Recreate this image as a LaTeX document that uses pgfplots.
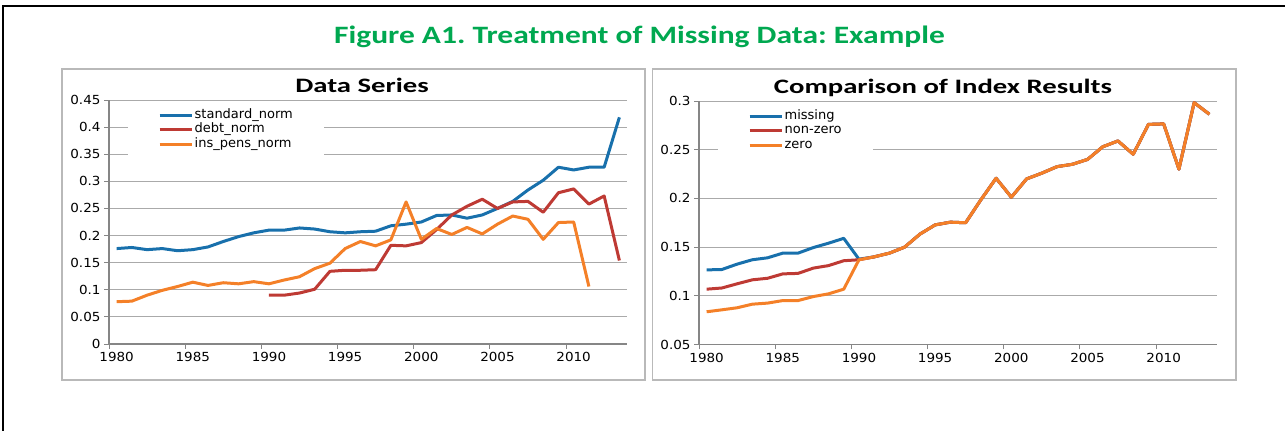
\documentclass[border=0pt]{standalone}
\usepackage{pgfplots}
\pgfplotsset{compat=1.18}
\usepackage{fontspec}
\setmainfont{DejaVu Sans}
\newfontfamily\tickfont[FakeStretch=1.08]{DejaVu Sans}
\newfontfamily\figtitlefont[FakeStretch=1.26]{Carlito}
\newfontfamily\charttitlefont[FakeStretch=1.4]{Carlito}
\definecolor{sblue}{RGB}{24,112,172}
\definecolor{sred}{RGB}{190,58,52}
\definecolor{sorange}{RGB}{244,128,40}
\definecolor{tgreen}{RGB}{0,168,80}
\definecolor{axgray}{RGB}{134,134,134}
\definecolor{gridgray}{RGB}{170,170,170}
\definecolor{boxgray}{RGB}{185,185,185}
\pgfplotsset{exstyle/.style={
  scale only axis, width=518pt,
  axis x line*=bottom, axis y line*=left,
  xmin=1979.5, xmax=2013.5,
  xtick={1979.5,1984.5,1989.5,1994.5,1999.5,2004.5,2009.5},
  xticklabels={1980,1985,1990,1995,2000,2005,2010},
  x tick label style={xshift=7.6pt},
  tick align=outside, major tick length=5pt,
  ymajorgrids, grid style={gridgray, line width=0.9pt},
  axis line style={axgray, line width=1.3pt},
  tick style={axgray, line width=0.9pt},
  /pgf/number format/assume math mode=true,
  tick label style={font=\tickfont\fontsize{12.5}{13}\selectfont, text=black},
  legend cell align=left,
  legend style={at={(0.0366,0.982)}, anchor=north west, draw=none, fill=white,
     inner xsep=30pt, inner ysep=3.5pt, row sep=0pt,
     font=\fontsize{13}{14}\selectfont,
     nodes={inner sep=1.5pt, text height=8.8pt, text depth=2.8pt}},
  legend image code/.code={\draw[##1, line width=3pt] (0pt,0pt) -- (32pt,0pt);},
  every axis plot/.append style={line width=3pt, line join=round, no markers},
}}
\begin{document}
\frenchspacing
\begin{tikzpicture}
\useasboundingbox (0,0) rectangle (1285pt,431pt);
% outer frame
\draw[line width=2pt, black] (2.7pt,0pt) -- (2.7pt,425.3pt) -- (1285pt,425.3pt);
% chart boxes
\draw[boxgray, line width=1.2pt] (62pt,51pt) rectangle (645pt,362pt);
\draw[boxgray, line width=1.2pt] (652.7pt,51pt) rectangle (1236pt,362pt);
% titles
\node[anchor=base, text=tgreen, font=\figtitlefont\bfseries\fontsize{25}{30}\selectfont] at (639.5pt,387pt) {Figure A1. Treatment of Missing Data: Example};
\node[anchor=base, font=\charttitlefont\bfseries\fontsize{20.5}{24}\selectfont] at (362pt,338.3pt) {Data Series};
\node[anchor=base, font=\charttitlefont\bfseries\fontsize{20.5}{24}\selectfont] at (943pt,337pt) {Comparison of Index Results};

\begin{axis}[exstyle, at={(109pt,87pt)}, anchor=south west, height=244pt,
  ymin=0, ymax=0.45,
  ytick={0,0.05,0.1,0.15,0.2,0.25,0.3,0.35,0.4,0.45},
  yticklabels={0,0.05,0.1,0.15,0.2,0.25,0.3,0.35,0.4,0.45}]
\addplot[sblue] coordinates {
(1980,0.176)(1981,0.178)(1982,0.174)(1983,0.176)(1984,0.172)(1985,0.174)
(1986,0.179)(1987,0.189)(1988,0.198)(1989,0.205)(1990,0.210)(1991,0.210)
(1992,0.214)(1993,0.212)(1994,0.207)(1995,0.205)(1996,0.207)(1997,0.208)
(1998,0.218)(1999,0.221)(2000,0.225)(2001,0.237)(2002,0.238)(2003,0.232)
(2004,0.238)(2005,0.250)(2006,0.263)(2007,0.284)(2008,0.302)(2009,0.326)
(2010,0.321)(2011,0.326)(2012,0.326)(2013,0.418)};
\addlegendentry{standard\_norm}
\addplot[sred] coordinates {
(1990,0.090)(1991,0.090)(1992,0.094)(1993,0.101)(1994,0.134)(1995,0.136)
(1996,0.136)(1997,0.137)(1998,0.182)(1999,0.181)(2000,0.187)(2001,0.211)
(2002,0.238)(2003,0.254)(2004,0.267)(2005,0.250)(2006,0.262)(2007,0.263)
(2008,0.243)(2009,0.279)(2010,0.286)(2011,0.258)(2012,0.273)(2013,0.154)};
\addlegendentry{debt\_norm}
\addplot[sorange] coordinates {
(1980,0.078)(1981,0.079)(1982,0.090)(1983,0.099)(1984,0.106)(1985,0.114)
(1986,0.108)(1987,0.113)(1988,0.111)(1989,0.115)(1990,0.111)(1991,0.118)
(1992,0.124)(1993,0.139)(1994,0.149)(1995,0.176)(1996,0.189)(1997,0.181)
(1998,0.192)(1999,0.262)(2000,0.193)(2001,0.213)(2002,0.202)(2003,0.215)
(2004,0.203)(2005,0.221)(2006,0.236)(2007,0.230)(2008,0.193)(2009,0.224)
(2010,0.225)(2011,0.106)};
\addlegendentry{ins\_pens\_norm}
\end{axis}

\begin{axis}[exstyle, at={(699pt,86.5pt)}, anchor=south west, height=243.5pt,
  ymin=0.05, ymax=0.3,
  ytick={0.05,0.1,0.15,0.2,0.25,0.3},
  yticklabels={0.05,0.1,0.15,0.2,0.25,0.3}]
\addplot[sblue] coordinates {
(1980,0.1266)(1981,0.127)(1982,0.1325)(1983,0.137)(1984,0.139)(1985,0.1438)
(1986,0.1438)(1987,0.1495)(1988,0.154)(1989,0.159)(1990,0.1376)(1991,0.140)
(1992,0.1438)(1993,0.150)(1994,0.1633)(1995,0.1728)(1996,0.1756)(1997,0.175)
(1998,0.1985)(1999,0.2207)(2000,0.2012)(2001,0.220)(2002,0.2259)(2003,0.2326)
(2004,0.235)(2005,0.240)(2006,0.253)(2007,0.259)(2008,0.2453)(2009,0.276)
(2010,0.2765)(2011,0.230)(2012,0.2983)(2013,0.2864)};
\addlegendentry{missing}
\addplot[sred] coordinates {
(1980,0.1068)(1981,0.108)(1982,0.1123)(1983,0.1164)(1984,0.118)(1985,0.1225)
(1986,0.123)(1987,0.1284)(1988,0.131)(1989,0.136)(1990,0.137)(1991,0.140)
(1992,0.1438)(1993,0.150)(1994,0.1633)(1995,0.1728)(1996,0.1756)(1997,0.175)
(1998,0.1985)(1999,0.2207)(2000,0.2012)(2001,0.220)(2002,0.2259)(2003,0.2326)
(2004,0.235)(2005,0.240)(2006,0.253)(2007,0.259)(2008,0.2453)(2009,0.276)
(2010,0.2765)(2011,0.230)(2012,0.2983)(2013,0.2864)};
\addlegendentry{non-zero}
\addplot[sorange] coordinates {
(1980,0.0836)(1981,0.0856)(1982,0.0877)(1983,0.0914)(1984,0.0925)(1985,0.0951)
(1986,0.0951)(1987,0.0992)(1988,0.102)(1989,0.1068)(1990,0.137)(1991,0.140)
(1992,0.1438)(1993,0.150)(1994,0.1633)(1995,0.1728)(1996,0.1756)(1997,0.175)
(1998,0.1985)(1999,0.2207)(2000,0.2012)(2001,0.220)(2002,0.2259)(2003,0.2326)
(2004,0.235)(2005,0.240)(2006,0.253)(2007,0.259)(2008,0.2453)(2009,0.276)
(2010,0.2765)(2011,0.230)(2012,0.2983)(2013,0.2864)};
\addlegendentry{zero}
\end{axis}
\end{tikzpicture}
\end{document}
